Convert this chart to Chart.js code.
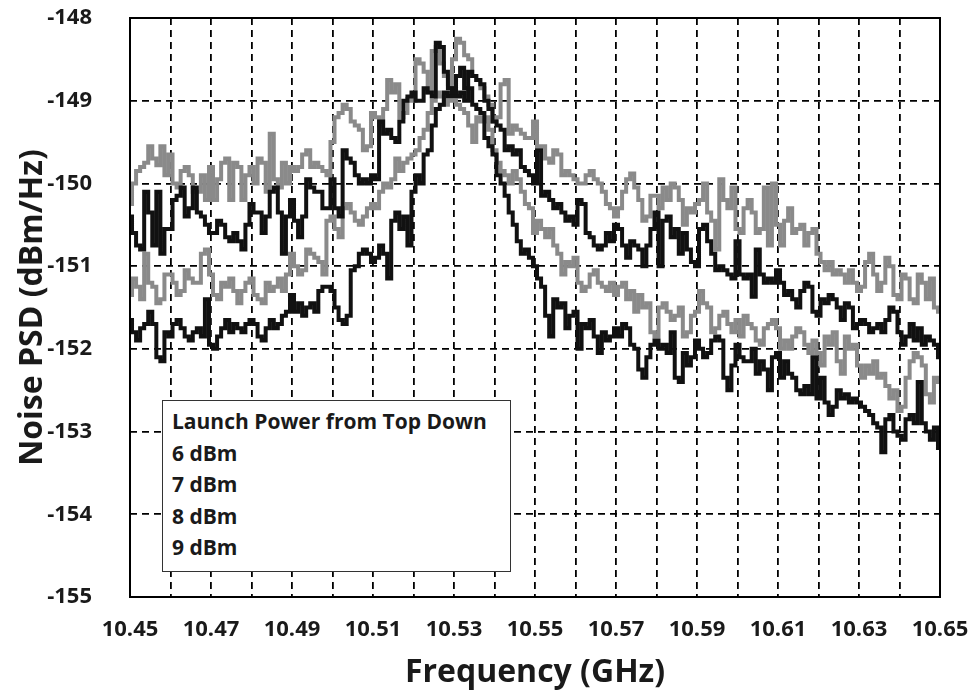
<!DOCTYPE html>
<html lang="en">
  <head>
    <meta charset="UTF-8" />
    <title>Noise PSD vs Frequency</title>
    <script src="https://cdn.jsdelivr.net/npm/chart.js"></script>
    <style>
      body {
        margin: 0;
        background: #fff;
        font-family: "Open Sans", sans-serif;
      }
      .wrap {
        position: relative;
        width: 976px;
        height: 700px;
      }
      .legend-box {
        position: absolute;
        left: 162px;
        top: 400px;
        width: 330px;
        height: 160px;
        padding: 5px 8px 5px 9px;
        border: 1.5px solid #333;
        background: #fff;
        color: #1a1a1a;
        font-weight: 700;
        font-size: 21px;
        line-height: 31.5px;
      }
    </style>
  </head>
  <body>
    <div class="wrap">
      <canvas id="psdChart" width="976" height="700"></canvas>
      <div class="legend-box">
        <div>Launch Power from Top Down</div>
        <div>6 dBm</div>
        <div>7 dBm</div>
        <div>8 dBm</div>
        <div>9 dBm</div>
      </div>
    </div>

    <script>
      // frequency sweep 10.45 .. 10.65 GHz, one sample every 1 MHz
      const freqStart = 10.45
      const freqStep = 0.001

      // Noise PSD (dBm/Hz), 10 samples per 0.01 GHz grid cell
      const psd6dBm = [
        -150.25, -150.0, -149.85, -149.8, -149.75, -149.55, -149.7, -149.78, -149.55, -149.9,
        -149.65, -150.0, -150.05, -149.85, -149.8, -149.9, -150.1, -150.1, -149.9, -150.2,
        -149.8, -150.2, -149.95, -149.75, -149.7, -150.2, -149.75, -149.8, -150.2, -149.9,
        -149.8, -150.0, -149.7, -149.75, -150.1, -149.4, -149.95, -150.05, -149.75, -150.0,
        -149.8, -149.85, -149.8, -149.65, -149.6, -149.8, -149.75, -149.8, -149.85, -149.9,
        -149.5, -149.2, -149.15, -149.05, -149.1, -149.25, -149.3, -149.35, -149.6, -149.55,
        -149.15, -149.2, -149.3, -149.1, -148.75, -148.9, -148.8, -149.2, -149.15, -148.98,
        -149.0, -148.5, -148.55, -148.65, -148.9, -148.4, -148.35, -148.55, -148.7, -148.8,
        -148.5, -148.25, -148.3, -148.45, -148.5, -148.7, -148.75, -148.85, -148.95, -149.05,
        -149.25, -149.2, -148.8, -148.75, -149.4, -149.3, -149.35, -149.4, -149.45, -149.45,
        -149.25, -149.55, -149.55, -149.7, -149.75, -149.6, -149.65, -149.9, -149.85, -149.9,
        -149.95, -150.0, -150.0, -149.9, -149.85, -149.95, -150.0, -150.1, -150.25, -150.3,
        -150.4, -150.3, -150.1, -149.95, -149.88, -150.05, -150.2, -150.45, -150.4, -150.15,
        -150.15, -150.3, -150.05, -150.2, -150.0, -150.05, -150.2, -150.5, -150.3, -150.35,
        -150.25, -150.2, -150.0, -150.35, -150.45, -150.8, -149.95, -150.2, -150.3, -150.05,
        -150.55, -150.6, -150.3, -150.2, -150.35, -150.6, -150.55, -150.05, -150.75, -150.0,
        -150.5, -150.75, -150.45, -150.3, -150.6, -150.55, -150.5, -150.75, -150.6, -150.55,
        -150.85, -150.95, -151.05, -150.95, -151.1, -151.05, -151.1, -151.2, -151.05, -151.2,
        -151.3, -151.25, -150.95, -150.85, -151.1, -151.3, -151.2, -150.9, -151.0, -151.35,
        -151.4, -151.1, -151.15, -151.4, -151.45, -151.1, -151.2, -151.4, -151.15, -151.5,
        -151.55
      ]

      const psd7dBm = [
        -150.4, -150.6, -150.75, -150.8, -150.1, -150.35, -150.75, -150.1, -150.85, -150.55,
        -150.55, -150.2, -150.15, -150.05, -150.4, -150.3, -150.05, -150.35, -150.4, -150.5,
        -150.6, -150.6, -150.45, -150.5, -150.65, -150.7, -150.6, -150.7, -150.8, -150.5,
        -150.25, -150.35, -150.35, -150.6, -150.4, -150.1, -150.05, -150.35, -150.85, -150.4,
        -150.2, -150.45, -150.65, -150.4, -149.95, -150.05, -150.1, -150.1, -150.3, -150.3,
        -149.95, -150.3, -150.4, -149.6, -149.7, -149.75, -149.9, -150.0, -149.95, -150.0,
        -149.9, -149.95, -149.25, -149.4, -149.35, -149.45, -149.5, -149.25, -149.0, -148.95,
        -148.9, -149.0, -149.0, -148.85, -148.9, -148.95, -148.3, -148.35, -148.65, -148.85,
        -148.9, -148.7, -148.6, -148.85, -148.65, -148.7, -148.75, -148.8, -149.0, -149.1,
        -149.25, -149.3, -149.35, -149.6, -149.55, -149.65, -149.6, -149.8, -149.85, -149.9,
        -150.0, -149.6, -150.15, -150.1, -150.2, -150.3, -150.25, -150.35, -150.45, -150.4,
        -150.5, -150.2, -150.25, -150.6, -150.65, -150.75, -150.8, -150.75, -150.6, -150.7,
        -150.5, -150.55, -150.75, -150.9, -150.7, -150.75, -150.8, -151.0, -150.75, -150.55,
        -150.35, -151.0, -150.45, -150.4, -150.65, -150.55, -150.85, -150.6, -150.8, -150.95,
        -151.0, -150.55, -150.5, -150.7, -150.85, -151.05, -151.0, -151.05, -151.1, -151.15,
        -150.7, -151.1, -151.15, -151.1, -151.37, -150.8, -151.1, -151.2, -151.15, -151.2,
        -151.05, -151.2, -151.35, -151.3, -151.4, -151.5, -151.3, -151.2, -151.25, -151.55,
        -151.6, -151.4, -151.45, -151.35, -151.4, -151.5, -151.65, -151.45, -151.5, -151.75,
        -151.7, -151.65, -151.7, -151.8, -151.75, -151.7, -151.8, -151.65, -151.5, -151.55,
        -151.8, -151.95, -151.85, -151.7, -151.9, -151.75, -151.95, -151.85, -151.9, -151.95,
        -152.1
      ]

      const psd8dBm = [
        -151.35, -151.15, -151.25, -151.4, -150.85, -151.2, -151.25, -151.45, -151.4, -151.1,
        -151.1, -151.2, -151.35, -151.3, -151.05, -151.15, -151.2, -151.2, -150.85, -150.8,
        -151.1, -151.35, -151.4, -151.2, -151.25, -151.15, -151.3, -151.45, -151.3, -151.2,
        -151.15, -151.35, -151.4, -151.45, -151.2, -151.3, -151.25, -151.15, -151.3, -151.1,
        -150.85, -151.0, -151.1, -151.05, -150.8, -150.85, -150.9, -150.95, -151.1, -150.45,
        -150.4, -150.55, -150.65, -150.3, -150.25, -150.35, -150.45, -150.5, -150.4, -150.3,
        -150.25, -150.3, -150.1, -150.0, -150.05, -149.95, -149.7, -149.85, -149.75, -149.7,
        -149.65, -149.6, -149.45, -149.35, -149.15, -149.0, -148.9, -148.95, -149.05, -149.0,
        -149.0, -149.05, -149.1, -149.15, -149.3, -149.5, -149.2, -149.25, -149.2, -149.35,
        -149.6, -149.75, -149.85, -149.9, -150.0, -149.85, -149.95, -150.1, -150.25, -150.3,
        -150.6, -150.45, -150.55, -150.65, -150.55, -150.75, -150.85, -151.1, -150.95, -151.0,
        -150.9, -151.2, -151.3, -151.25, -151.1, -151.05, -151.2, -151.25, -151.3, -151.2,
        -151.35, -151.25, -151.2, -151.4, -151.3, -151.55, -151.35, -151.5, -151.45, -151.8,
        -151.85, -151.5, -151.45, -151.55, -151.65, -151.6, -151.5, -151.85, -151.8, -151.6,
        -151.55, -151.3, -151.45, -151.5, -151.8, -151.75, -151.6, -151.55, -151.7, -151.8,
        -151.65, -151.85, -151.6, -151.7, -151.75, -151.9, -151.95, -151.75, -151.7, -151.65,
        -151.75, -152.0, -151.9, -152.0, -151.85, -151.75, -151.8, -151.95, -152.05, -151.9,
        -152.05, -152.2, -151.85, -151.95, -151.8, -152.15, -152.3, -151.85, -152.0, -151.95,
        -152.2, -152.35, -152.2, -152.3, -152.15, -152.35, -152.3, -152.45, -152.6, -152.5,
        -152.75, -152.7, -152.35, -152.15, -152.05, -152.1, -152.2, -152.55, -152.65, -152.35,
        -152.4
      ]

      const psd9dBm = [
        -151.65, -151.8, -151.9, -151.75, -151.7, -151.55, -151.7, -152.1, -152.15, -151.8,
        -151.85, -151.7, -151.65, -151.75, -151.85, -151.9, -151.8, -151.75, -151.85, -151.4,
        -151.95, -152.0, -151.85, -151.75, -151.65, -151.8, -151.7, -151.75, -151.8, -151.7,
        -151.65, -151.7, -151.85, -151.9, -151.75, -151.65, -151.75, -151.7, -151.6, -151.55,
        -151.35, -151.55, -151.45, -151.6, -151.5, -151.45, -151.55, -151.3, -151.25, -151.25,
        -151.3, -151.5, -151.65, -151.7, -151.6, -151.05, -151.0, -150.85, -150.8, -150.85,
        -150.95, -150.9, -150.75, -150.85, -151.15, -150.45, -150.35, -150.55, -150.4, -150.75,
        -150.1, -149.9, -150.0, -149.65, -149.6, -149.3, -149.1, -149.05, -148.9, -148.95,
        -148.85, -148.95, -148.9, -149.0, -148.85, -149.05, -149.1, -149.15, -149.45, -149.55,
        -149.65, -149.9, -150.0, -150.15, -150.35, -150.5, -150.7, -150.85, -150.8, -150.9,
        -151.0, -151.15, -151.25, -151.6, -151.85, -151.4, -151.5, -151.45, -151.75, -151.6,
        -151.55, -152.0, -151.7, -151.75, -151.65, -151.85, -152.05, -151.8, -151.9, -151.85,
        -151.75, -151.85, -151.7, -151.75, -151.95, -152.0, -152.25, -152.35, -152.1, -151.95,
        -151.9, -152.0, -151.95, -152.05, -151.8, -152.35, -152.4, -152.05, -152.2, -152.1,
        -151.9, -152.0, -152.1, -152.05, -151.9, -151.85, -151.9, -152.35, -152.5, -152.2,
        -151.95, -152.1, -152.15, -152.15, -152.0, -152.3, -152.15, -152.25, -152.5, -152.1,
        -152.05, -152.35, -152.15, -152.3, -152.35, -152.5, -152.55, -152.45, -152.55, -152.1,
        -152.6, -152.35, -152.65, -152.8, -152.7, -152.5, -152.6, -152.55, -152.65, -152.6,
        -152.65, -152.7, -152.75, -152.8, -152.9, -152.95, -153.25, -152.85, -152.8, -153.0,
        -153.05, -153.1, -152.85, -152.8, -152.9, -152.4, -152.9, -153.0, -153.1, -152.95,
        -153.2
      ]

      const seriesNames = ["6 dBm", "7 dBm", "8 dBm", "9 dBm"]
      const seriesColors = ["#8a8a8a", "#111111", "#8a8a8a", "#111111"]

      const freqs = psd6dBm.map((_, i) => +(freqStart + i * freqStep).toFixed(3))
      const toPoints = (vals) => vals.map((v, i) => ({ x: freqs[i], y: v }))

      const textColor = "#1a1a1a"
      const tickFont = { family: "Open Sans", size: 22, weight: "bold" }
      const titleFont = { family: "Open Sans", size: 32, weight: "bold" }

      // solid frame round the plot area
      const frame = {
        id: "frame",
        afterDraw(chart) {
          const { ctx, chartArea: a } = chart
          ctx.save()
          ctx.strokeStyle = "#000"
          ctx.lineWidth = 2
          ctx.strokeRect(a.left, a.top, a.right - a.left, a.bottom - a.top)
          ctx.restore()
        },
      }

      const ctx = document.getElementById("psdChart").getContext("2d")
      new Chart(ctx, {
        type: "line",
        data: {
          datasets: [psd6dBm, psd7dBm, psd8dBm, psd9dBm].map((vals, k) => ({
            label: seriesNames[k],
            data: toPoints(vals),
            borderColor: seriesColors[k],
            borderWidth: 4,
            pointRadius: 0,
            stepped: "middle",
            fill: false,
            order: k % 2 === 0 ? 2 : 1,
          })),
        },
        options: {
          responsive: false,
          animation: false,
          devicePixelRatio: 1,
          layout: { padding: { top: 18, right: 36, left: 0, bottom: 0 } },
          plugins: {
            legend: { display: false },
            tooltip: { enabled: false },
          },
          scales: {
            x: {
              type: "linear",
              min: 10.45,
              max: 10.65,
              afterFit: (s) => {
                s.height = 103
                s.paddingLeft = 0
                s.paddingRight = 0
              },
              border: { display: false, dash: [7, 5] },
              grid: { color: "#000", lineWidth: 1.8, drawTicks: false },
              ticks: {
                stepSize: 0.01,
                autoSkip: false,
                maxRotation: 0,
                padding: 20,
                color: textColor,
                font: tickFont,
                callback: (v, i) => (i % 2 === 0 ? Number(v).toFixed(2) : ""),
              },
              title: {
                display: true,
                text: "Frequency (GHz)",
                color: textColor,
                font: titleFont,
                padding: { top: 0, bottom: 8 },
              },
            },
            y: {
              min: -155,
              max: -148,
              afterFit: (s) => {
                s.width = 130
                s.paddingTop = 0
                s.paddingBottom = 0
              },
              border: { display: false, dash: [7, 5] },
              grid: { color: "#000", lineWidth: 1.8, drawTicks: false },
              ticks: {
                stepSize: 1,
                padding: 38,
                color: textColor,
                font: tickFont,
                callback: (v) => String(v),
              },
              title: {
                display: true,
                text: "Noise PSD (dBm/Hz)",
                color: textColor,
                font: titleFont,
                padding: { top: 14, bottom: 0 },
              },
            },
          },
        },
        plugins: [frame],
      })
    </script>
  </body>
</html>
